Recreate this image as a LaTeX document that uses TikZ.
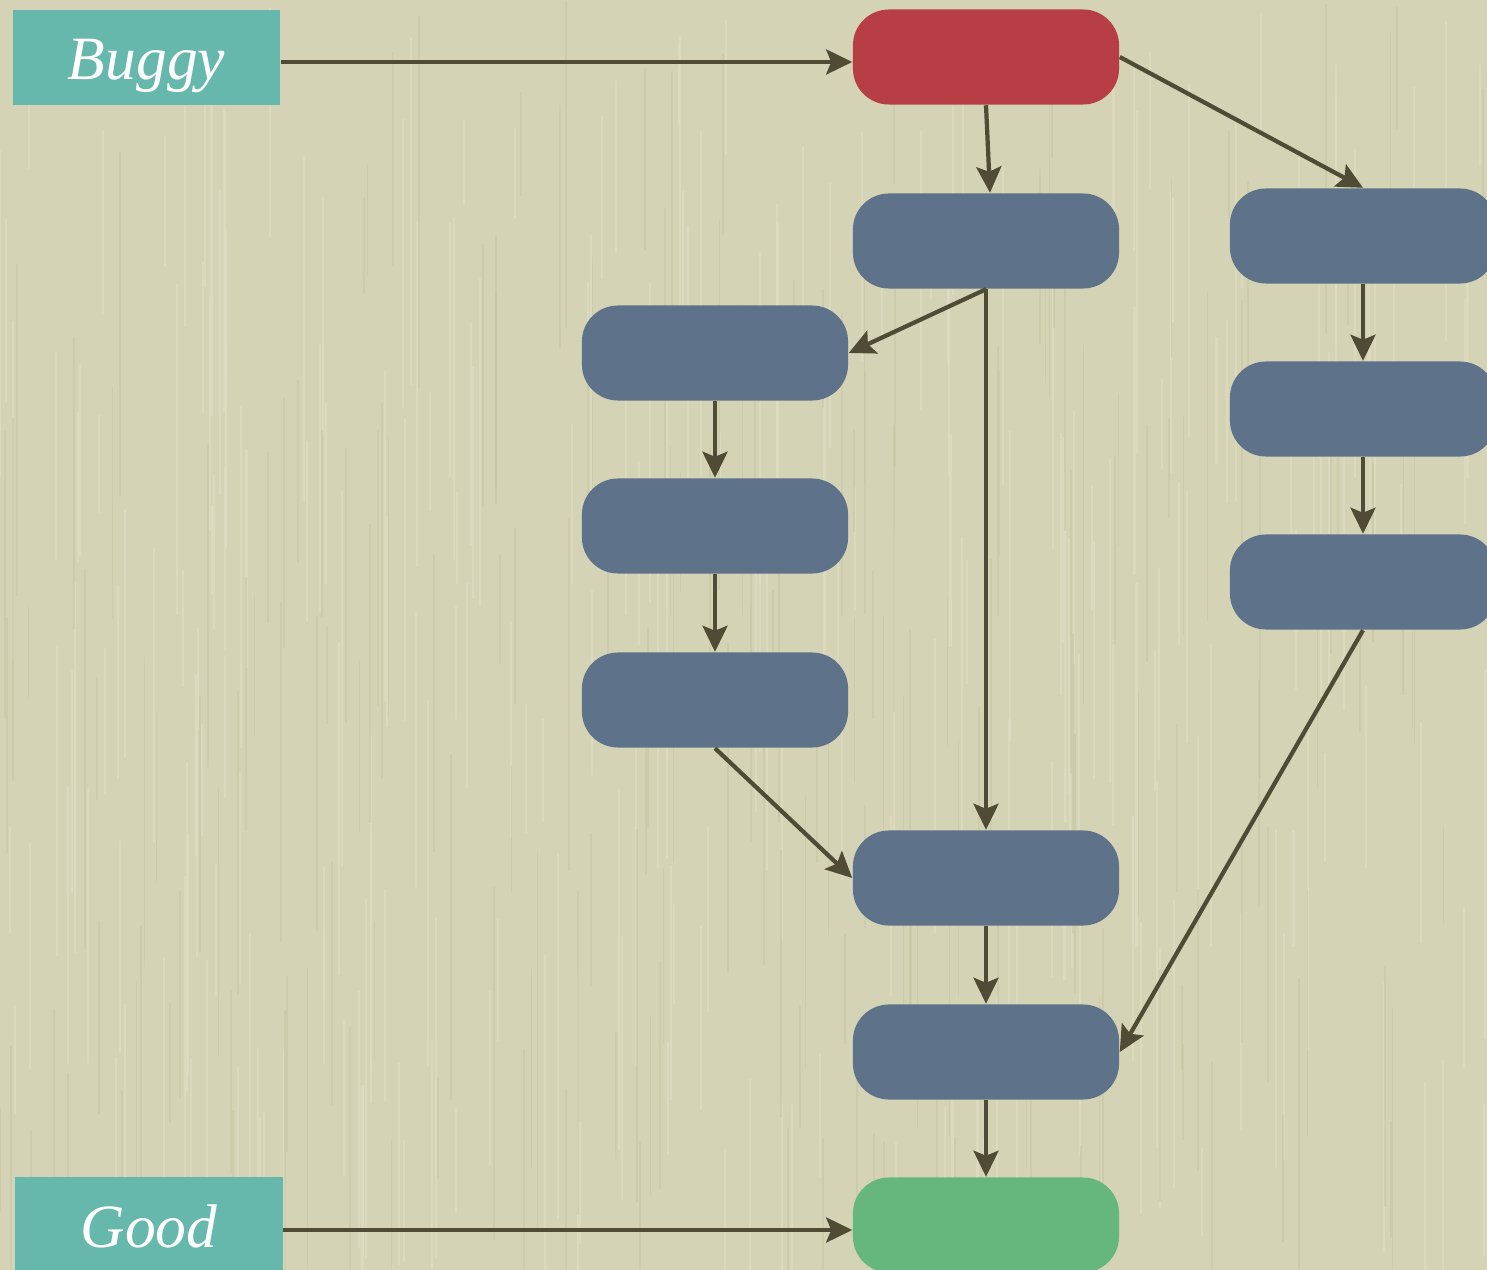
\documentclass[tikz,border=0pt]{standalone}
\usepackage{fontspec}
\setmainfont{Liberation Serif}
\usetikzlibrary{arrows.meta}
\definecolor{paper}{HTML}{D4D3B5}
\definecolor{paperlight}{HTML}{DEDDC2}
\definecolor{paperdark}{HTML}{C6C4A4}
\definecolor{badred}{HTML}{B83E45}
\definecolor{stepblue}{HTML}{5E7389}
\definecolor{goodgreen}{HTML}{66B77D}
\definecolor{tagteal}{HTML}{66B8AC}
\definecolor{wire}{HTML}{4F4B35}
\tikzset{
  commit/.style={rectangle, rounded corners=0.36cm, minimum width=2.66cm,
    minimum height=0.95cm, inner sep=0pt, fill=stepblue},
  tag/.style={rectangle, minimum width=2.67cm, minimum height=0.95cm,
    inner sep=0pt, fill=tagteal, text=white, text height=0.47cm,
    text depth=0.03cm, font=\fontsize{17.5}{18}\selectfont\itshape},
  link/.style={draw=wire, line width=1.2pt,
    -{Stealth[length=0.26cm, width=0.25cm, inset=0.05cm]}},
}
\begin{document}
\begin{tikzpicture}[x=0.01cm, y=-0.01cm]
  \useasboundingbox (0,0) rectangle (1487,1270);
  % paper background with a faint vertical grain
  \begin{scope}
    \clip (0,0) rectangle (1487,1270);
    \fill[paper] (0,0) rectangle (1487,1270);
    \pgfmathsetseed{7}
    \foreach \i in {1,...,260}{
      \pgfmathsetmacro{\gx}{rnd*1487}
      \pgfmathsetmacro{\gy}{rnd*1150}
      \pgfmathsetmacro{\gl}{80+rnd*300}
      \draw[paperlight, line width=0.6pt, opacity=0.7] (\gx,\gy) -- ++(0,\gl);
    }
    \foreach \i in {1,...,200}{
      \pgfmathsetmacro{\gx}{rnd*1487}
      \pgfmathsetmacro{\gy}{rnd*1150}
      \pgfmathsetmacro{\gl}{80+rnd*300}
      \draw[paperdark, line width=0.5pt, opacity=0.5] (\gx,\gy) -- ++(0,\gl);
    }
  \end{scope}

  % labels
  \node[tag] (buggy) at (146.5,57.5) {Buggy};
  \node[tag] (good)  at (149,1225) {Good};

  % commit graph
  \node[commit, fill=badred]    (bad)  at (986,57)   {};
  \node[commit]                 (b1)   at (986,241)  {};
  \node[commit]                 (r1)   at (1363,236) {};
  \node[commit]                 (r2)   at (1363,409) {};
  \node[commit]                 (r3)   at (1363,582) {};
  \node[commit]                 (l1)   at (715,353)  {};
  \node[commit]                 (l2)   at (715,526)  {};
  \node[commit]                 (l3)   at (715,700)  {};
  \node[commit]                 (m1)   at (986,878)  {};
  \node[commit]                 (m2)   at (986,1052) {};
  \node[commit, fill=goodgreen] (ok)   at (986,1225) {};

  % connectors
  \draw[link] (buggy.east |- 0,62) -- (bad.west |- 0,62);
  \draw[link] (good.east |- 0,1230) -- (ok.west |- 0,1230);
  \draw[link] (bad.south) -- ([xshift=0.04cm]b1.north);
  \draw[link] (bad.east) -- (r1.north);
  \draw[link] (b1.south) -- (l1.east);
  \draw[link] (b1.south) -- (m1.north);
  \draw[link] (r1) -- (r2);
  \draw[link] (r2) -- (r3);
  \draw[link] (l1) -- (l2);
  \draw[link] (l2) -- (l3);
  \draw[link] (l3.south) -- (m1.west);
  \draw[link] (r3.south) -- (m2.east);
  \draw[link] (m1) -- (m2);
  \draw[link] (m2) -- (ok);
\end{tikzpicture}
\end{document}
